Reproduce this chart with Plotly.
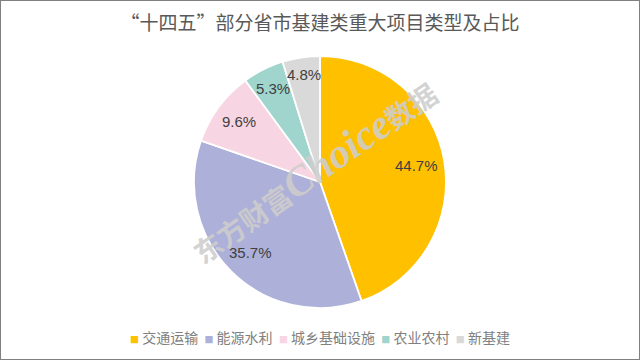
import math
import plotly.graph_objects as go

categories = ["交通运输", "能源水利", "城乡基础设施", "农业农村", "新基建"]
shares = [44.7, 35.7, 9.6, 5.3, 4.8]
colors = ["#FFC000", "#ADB0D8", "#F8D5E2", "#9FD5CC", "#D9D9D9"]
title_text = "“十四五”部分省市基建类重大项目类型及占比"
watermark = ("<b>东方财富<span style='font-size:42px'><i>Choice</i></span>数据</b>")

W, H = 640, 360
CX, CY, R = 320.0, 182.0, 126.0  # pie centre / radius in pixels

# pie domain from centre/radius
dom_x = [(CX - R) / W, (CX + R) / W]
dom_y = [1 - (CY + R) / H, 1 - (CY - R) / H]

fig = go.Figure()
fig.add_trace(go.Pie(
    labels=categories,
    values=shares,
    sort=False,
    direction="clockwise",
    rotation=0,
    marker=dict(colors=colors, line=dict(color="white", width=1.8)),
    textinfo="none",
    domain=dict(x=dom_x, y=dom_y),
    hoverinfo="label+percent",
    showlegend=False,
))

annotations = []

# watermark (drawn first so the data labels sit on top)
annotations.append(dict(text=watermark, xref="paper", yref="paper",
                        x=313 / W, y=1 - 171 / H, showarrow=False, textangle=-35,
                        xanchor="center", yanchor="middle",
                        font=dict(family="Liberation Serif, Noto Sans CJK SC", size=28,
                                  color="rgba(205,205,205,0.88)")))

# data labels placed at each slice's mid-angle (computed from the values)
char_w = {".": 4.17, "%": 13.34}
total = sum(shares)
cum = 0.0
for v in shares:
    mid = (cum + v / 2) / total * 2 * math.pi
    cum += v
    txt = f"{v:.1f}%"
    hw = 0.5 * sum(char_w.get(c, 8.34) for c in txt)
    hh = 8.0
    s, c = math.sin(mid), math.cos(mid)
    ext = abs(s) * hw + abs(c) * hh
    d = 0.95 * R - ext
    px, py = CX + d * s, CY - d * c
    annotations.append(dict(text=txt, xref="paper", yref="paper", x=px / W, y=1 - py / H,
                            showarrow=False, xanchor="center", yanchor="middle",
                            font=dict(family="Liberation Sans, Arial", size=15, color="#404040")))

# legend row built from categories and colours
parts = []
for name, col in zip(categories, colors):
    parts.append(f"<span style='color:{col};font-size:9px'>■</span> {name}")
legend_text = "  ".join(parts)
annotations.append(dict(text=legend_text, xref="paper", yref="paper",
                        x=0.5, y=1 - 337 / H, showarrow=False,
                        xanchor="center", yanchor="middle",
                        font=dict(family="Noto Sans CJK SC", size=14, color="#808080")))

fig.update_layout(
    width=W, height=H,
    margin=dict(l=0, r=0, t=0, b=0),
    paper_bgcolor="white",
    plot_bgcolor="white",
    title=dict(text=title_text, x=0.5, xanchor="center", y=1 - 23 / H, yanchor="middle",
               font=dict(family="Noto Sans CJK SC", size=19, color="#595959")),
    showlegend=False,
    shapes=[dict(type="rect", xref="paper", yref="paper", x0=0, y0=0, x1=1, y1=1,
                 line=dict(color="#808080", width=2))],
    annotations=annotations,
)

fig.write_html("out.html", config={"displayModeBar": False},
               post_script="document.body.style.margin='0';")
